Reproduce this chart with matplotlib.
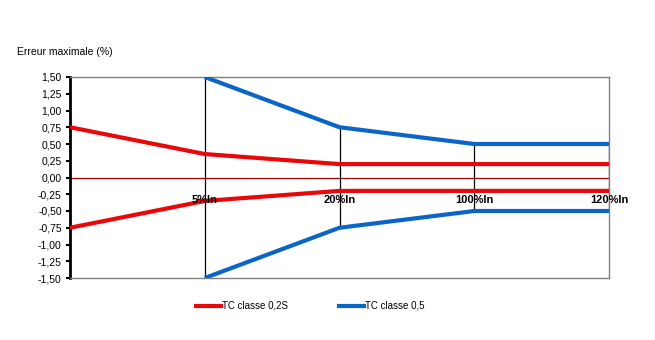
import numpy as np
import matplotlib
matplotlib.use("Agg")
import matplotlib.pyplot as plt
from matplotlib.lines import Line2D

plt.rcParams['font.family'] = ['Liberation Sans', 'DejaVu Sans']

categories = ['', '5%In', '20%In', '100%In', '120%In']
red_upper = [0.75, 0.35, 0.2, 0.2, 0.2]
red_lower = [-0.75, -0.35, -0.2, -0.2, -0.2]
blue_upper = [np.nan, 1.5, 0.75, 0.5, 0.5]
blue_lower = [np.nan, -1.5, -0.75, -0.5, -0.5]
yticks = np.arange(-1.5, 1.51, 0.25)

red = '#E8080A'
blue = '#0A66C6'

fig = plt.figure(figsize=(6.55, 3.4), dpi=100)
ax = fig.add_axes([70 / 655, 1 - 278 / 340, 539 / 655, 201 / 340])

x = np.arange(len(categories))

# high-low lines
for i in range(1, len(categories)):
    vals = [red_upper[i], red_lower[i], blue_upper[i], blue_lower[i]]
    ax.vlines(x[i], min(vals), max(vals), color='black', lw=0.9, zorder=2)

ax.axhline(0, color='#A00000', lw=0.9, zorder=1)

ax.plot(x, red_upper, color=red, lw=3, solid_capstyle='butt', zorder=3)
ax.plot(x, red_lower, color=red, lw=3, solid_capstyle='butt', zorder=3)
ax.plot(x, blue_upper, color=blue, lw=3, solid_capstyle='butt', zorder=3)
ax.plot(x, blue_lower, color=blue, lw=3, solid_capstyle='butt', zorder=3)

ax.set_xlim(0, len(categories) - 1)
ax.set_ylim(-1.5, 1.5)
ax.set_yticks(yticks)
ax.set_yticklabels([('%.2f' % v).replace('.', ',') for v in yticks], fontsize=7.5)
ax.tick_params(axis='y', direction='out', length=3, width=1.5, pad=3)
ax.set_xticks([])

for i in range(1, len(categories)):
    ax.text(x[i], -0.34, categories[i], ha='center', va='center',
            fontsize=8, fontweight='bold', zorder=4)

for s in ['top', 'bottom', 'right']:
    ax.spines[s].set_color('#808080')
    ax.spines[s].set_linewidth(1)
ax.spines['left'].set_color('black')
ax.spines['left'].set_linewidth(2)

fig.text(17 / 655, 1 - 52 / 340, 'Erreur maximale (%)', fontsize=7.5,
         ha='left', va='center')

handles = [Line2D([], [], color=red, lw=3), Line2D([], [], color=blue, lw=3)]
fig.legend(handles, ['TC classe 0,2S', 'TC classe 0,5'], loc='center',
           bbox_to_anchor=(310 / 655, 1 - 306 / 340), ncol=2, frameon=False,
           fontsize=7, handlelength=2.6, handletextpad=0.1, columnspacing=5.2)

fig.savefig('out.png', dpi=100)
